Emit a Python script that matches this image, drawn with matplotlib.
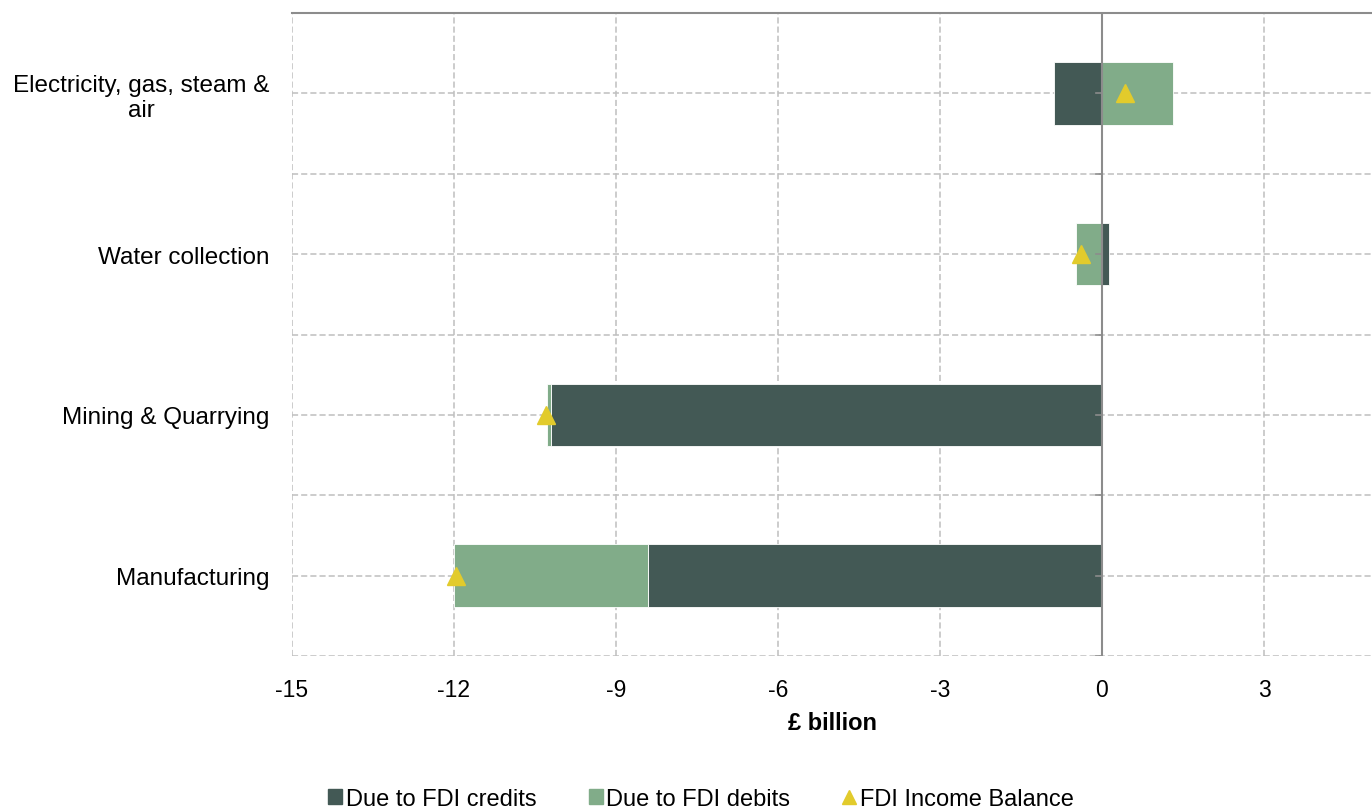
import numpy as np
import matplotlib.pyplot as plt
from matplotlib.lines import Line2D
from matplotlib.patches import Patch

plt.rcParams['font.family'] = ['Liberation Sans', 'DejaVu Sans']

#------------------------------------------------------------------------------
# data (£ billion)
#------------------------------------------------------------------------------

categories = ['Manufacturing', 'Mining & Quarrying', 'Water collection',
              'Electricity, gas, steam &\nair']
credits = [-8.4, -10.2, 0.13, -0.88]
debits = [-3.6, -0.08, -0.49, 1.31]
balance = [-11.97, -10.3, -0.38, 0.43]
xticks = [-15, -12, -9, -6, -3, 0, 3]

col_cred = '#435955'
col_deb = '#81AC89'
col_bal = '#E2CB2C'
col_grid = '#BFBFBF'

#------------------------------------------------------------------------------

credits = np.array(credits)
debits = np.array(debits)
y = np.arange(len(categories))

# stack debits on credits only when they go the same way
left = np.where(np.sign(debits) == np.sign(credits), credits, 0.)

fig = plt.figure(figsize=(13.72, 8.12), dpi=100)
ax = fig.add_axes([292/1372, 1-657/812, 1-292/1372, (657-14)/812])

h = 0.39
ax.barh(y, credits, height=h, color=col_cred, edgecolor='white', linewidth=0.6, zorder=3)
ax.barh(y, debits, left=left, height=h, color=col_deb, edgecolor='white', linewidth=0.6, zorder=3)
ax.plot(balance, y, linestyle='none', marker='^', markersize=13, color=col_bal, zorder=4)

ax.set_xlim(-15, 5)
ax.set_ylim(-0.5, 3.5)

# grid: vertical at ticks, horizontal at centres and boundaries
for xv in xticks + [6]:
    if xv != 0:
        ax.axvline(xv, color=col_grid, linestyle=(0, (4, 2)), linewidth=1.1, zorder=1)
for yv in np.arange(-0.5, 3.6, 0.5):
    ax.axhline(yv, color=col_grid, linestyle=(0, (4, 2)), linewidth=1.1, zorder=1)

# vertical axis at zero with small ticks
ax.axvline(0, color='#8C8C8C', linewidth=1.5, zorder=5)
for yv in np.arange(-0.5, 3.6, 0.5):
    ax.plot([-0.12, 0], [yv, yv], color='#8C8C8C', linewidth=1.2, zorder=5)

for s in ['left', 'right', 'bottom']:
    ax.spines[s].set_visible(False)
ax.spines['top'].set_color('#8C8C8C')
ax.spines['top'].set_linewidth(1.5)

ax.set_xticks(xticks)
ax.set_xticklabels([str(v) for v in xticks])
ax.set_yticks(y)
ax.set_yticklabels(categories, ha='right', multialignment='center')
ax.tick_params(axis='y', length=0, pad=16, labelsize=17.5)
ax.tick_params(axis='x', length=0, pad=16, labelsize=16.5)
ax.set_xlabel('£ billion', fontsize=17, fontweight='bold', labelpad=7)

handles = [Patch(color=col_cred, label='Due to FDI credits'),
           Patch(color=col_deb, label='Due to FDI debits'),
           Line2D([], [], linestyle='none', marker='^', color=col_bal,
                  markersize=10, label='FDI Income Balance')]
fig.legend(handles=handles, loc='center', bbox_to_anchor=(701/1372, 1-800/812),
           ncol=3, frameon=False, fontsize=17, handlelength=0.6, handleheight=0.6,
           handletextpad=0.15, columnspacing=2.2)

plt.savefig('out.png', dpi=100)
